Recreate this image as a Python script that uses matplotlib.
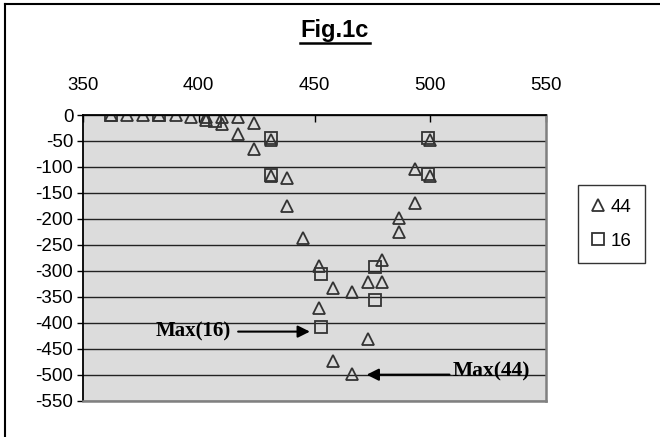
import matplotlib.pyplot as plt

# series "44" (triangles)
x44 = [362, 369, 376, 383, 390, 396.5, 403, 403, 410, 410, 417, 417,
       424, 424, 431, 431, 438, 438, 445, 452, 452, 458, 458, 466, 466,
       473, 473, 479, 479, 486.5, 486.5, 493.5, 493.5, 500, 500]
y44 = [0, 0, 0, 0, 0, -3, -3, -10, -3, -17, -3, -37,
       -16, -66, -48, -117, -122, -175, -237, -291, -372, -334, -474, -340, -499,
       -322, -432, -279, -321, -198, -225, -104, -170, -49, -117]

# series "16" (squares)
x16 = [362, 383, 407, 431, 431, 453, 453, 476, 476, 499, 499]
y16 = [0, 0, -12, -45, -115, -307, -409, -292, -357, -45, -114]

xticks = [350, 400, 450, 500, 550]
yticks = list(range(-550, 1, 50))

plt.rcParams['font.family'] = ['Liberation Sans', 'DejaVu Sans']

W, H = 660, 437
fig = plt.figure(figsize=(6.6, 4.37), dpi=100)
ax = fig.add_axes([0.1258, 0.0831, 0.7015, 0.6537])
ax.set_facecolor('#dcdcdc')

mk = dict(linestyle='none', markerfacecolor='none', markeredgecolor='#333333',
          markeredgewidth=1.3, markersize=8.5)
ax.plot(x44, y44, marker='^', label='44', **mk)
ax.plot(x16, y16, marker='s', label='16', **dict(mk, markersize=8))

ax.set_xlim(350, 550)
ax.set_ylim(-550, 0)

ax.xaxis.tick_top()
ax.set_xticks(xticks)
ax.set_xticklabels([str(v) for v in xticks], fontsize=13.5)
ax.tick_params(axis='x', direction='in', length=5, pad=15, width=1)
ax.set_yticks(yticks)
ax.set_yticklabels([str(v) for v in yticks], fontsize=13.5)
ax.tick_params(axis='y', direction='out', length=4, pad=3, width=1)

ax.yaxis.grid(True, color='#222222', linewidth=1)
ax.set_axisbelow(True)
ax.spines['top'].set_color('black')
ax.spines['top'].set_linewidth(1.3)
ax.spines['left'].set_color('black')
ax.spines['left'].set_linewidth(1.3)
for s in ['bottom', 'right']:
    ax.spines[s].set_color('#808080')
    ax.spines[s].set_linewidth(1.8)

# annotations
ax.annotate('Max(16)', xy=(448, -417), xytext=(414, -417),
            ha='right', va='center', fontsize=15, fontweight='bold',
            family='Liberation Serif',
            arrowprops=dict(arrowstyle='-|>', color='black', lw=1.5,
                            mutation_scale=18, shrinkA=3, shrinkB=0))
ax.annotate('Max(44)', xy=(472.5, -500), xytext=(509.5, -494),
            ha='left', va='center', fontsize=15.5, fontweight='bold',
            family='Liberation Serif',
            arrowprops=dict(arrowstyle='-|>', color='black', lw=1.5,
                            mutation_scale=18, shrinkA=0, shrinkB=0,
                            relpos=(0, 0.35)))

leg = ax.legend(loc='center', bbox_to_anchor=(611.5 / W, 1 - 224 / H),
                bbox_transform=fig.transFigure, fontsize=13.5, frameon=True,
                fancybox=False, edgecolor='black', handlelength=0.7,
                handletextpad=0.35, borderpad=0.7, labelspacing=0.9)
leg.get_frame().set_linewidth(1)

# title with underline
fig.text(335 / W, 1 - 37 / H, 'Fig.1c', ha='center', va='baseline',
         fontsize=17, fontweight='bold')
fig.add_artist(plt.Line2D([300 / W, 370 / W], [1 - 43 / H, 1 - 43 / H],
                          color='black', lw=1.8, transform=fig.transFigure))

# chart frame: only the top and left edges fall inside the picture
fig.add_artist(plt.Line2D([5 / W, 1], [1 - 4 / H, 1 - 4 / H], color='black',
                          lw=1.5, transform=fig.transFigure))
fig.add_artist(plt.Line2D([5 / W, 5 / W], [0, 1 - 4 / H], color='black',
                          lw=1.5, transform=fig.transFigure))

fig.savefig('out.png', dpi=100)
